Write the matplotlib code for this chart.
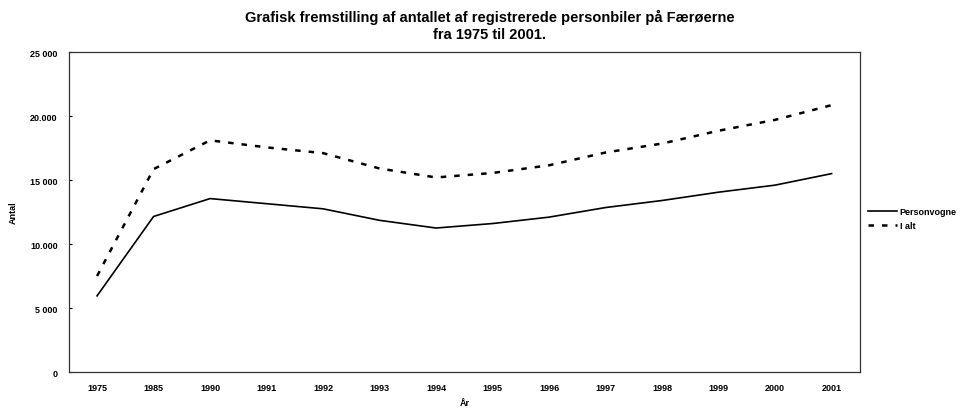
import numpy as np
import matplotlib
matplotlib.use("Agg")
import matplotlib.pyplot as plt

plt.rcParams['font.family'] = ['Liberation Sans', 'DejaVu Sans']

# data
years = ["1975", "1985", "1990", "1991", "1992", "1993", "1994", "1995",
         "1996", "1997", "1998", "1999", "2000", "2001"]
personvogne = [5950, 12150, 13550, 13150, 12750, 11850, 11250, 11600,
               12100, 12850, 13400, 14050, 14600, 15500]
i_alt = [7500, 15850, 18100, 17550, 17100, 15900, 15200, 15550,
         16150, 17150, 17850, 18850, 19700, 20850]
ytick_vals = [0, 5000, 10000, 15000, 20000, 25000]
ytick_labels = ["0", "5 000", "10.000", "15 000", "20.000", "25 000"]

fig = plt.figure(figsize=(9.76, 4.10), dpi=100)
ax = fig.add_axes([0.0705, 0.0902, 0.8105, 0.7805])

x = np.arange(len(years))
ax.plot(x, personvogne, color="black", lw=1.2, label="Personvogne")
ax.plot(x, i_alt, color="black", lw=1.8, ls=(0, (2.2, 3.2)), label="I alt")

ax.set_xlim(-0.5, len(years) - 0.5)
ax.set_ylim(0, 25000)
ax.set_xticks(x)
ax.set_xticklabels(years, fontsize=6.5, fontweight="bold")
ax.set_yticks(ytick_vals)
ax.set_yticklabels(ytick_labels, fontsize=6.5, fontweight="bold")
ax.tick_params(axis="x", length=0, pad=8)
ax.tick_params(axis="y", length=2, direction="in", pad=8)
for s in ax.spines.values():
    s.set_linewidth(0.9)
    s.set_color("#333333")

ax.set_xlabel("År", fontsize=6.5, fontweight="bold", labelpad=4)
ax.set_ylabel("Antal", fontsize=6.5, fontweight="bold", labelpad=9)

fig.suptitle("Grafisk fremstilling af antallet af registrerede personbiler på Færøerne\nfra 1975 til 2001.",
             fontsize=10.5, fontweight="bold", y=0.975, x=0.502, linespacing=1.2)

leg = ax.legend(loc="center left", bbox_to_anchor=(1.0, 0.48), frameon=False,
                prop={"size": 6.5, "weight": "bold"}, handlelength=3.2,
                handletextpad=0.3, labelspacing=0.5, borderaxespad=0.5)

fig.savefig("out.png", dpi=100)
